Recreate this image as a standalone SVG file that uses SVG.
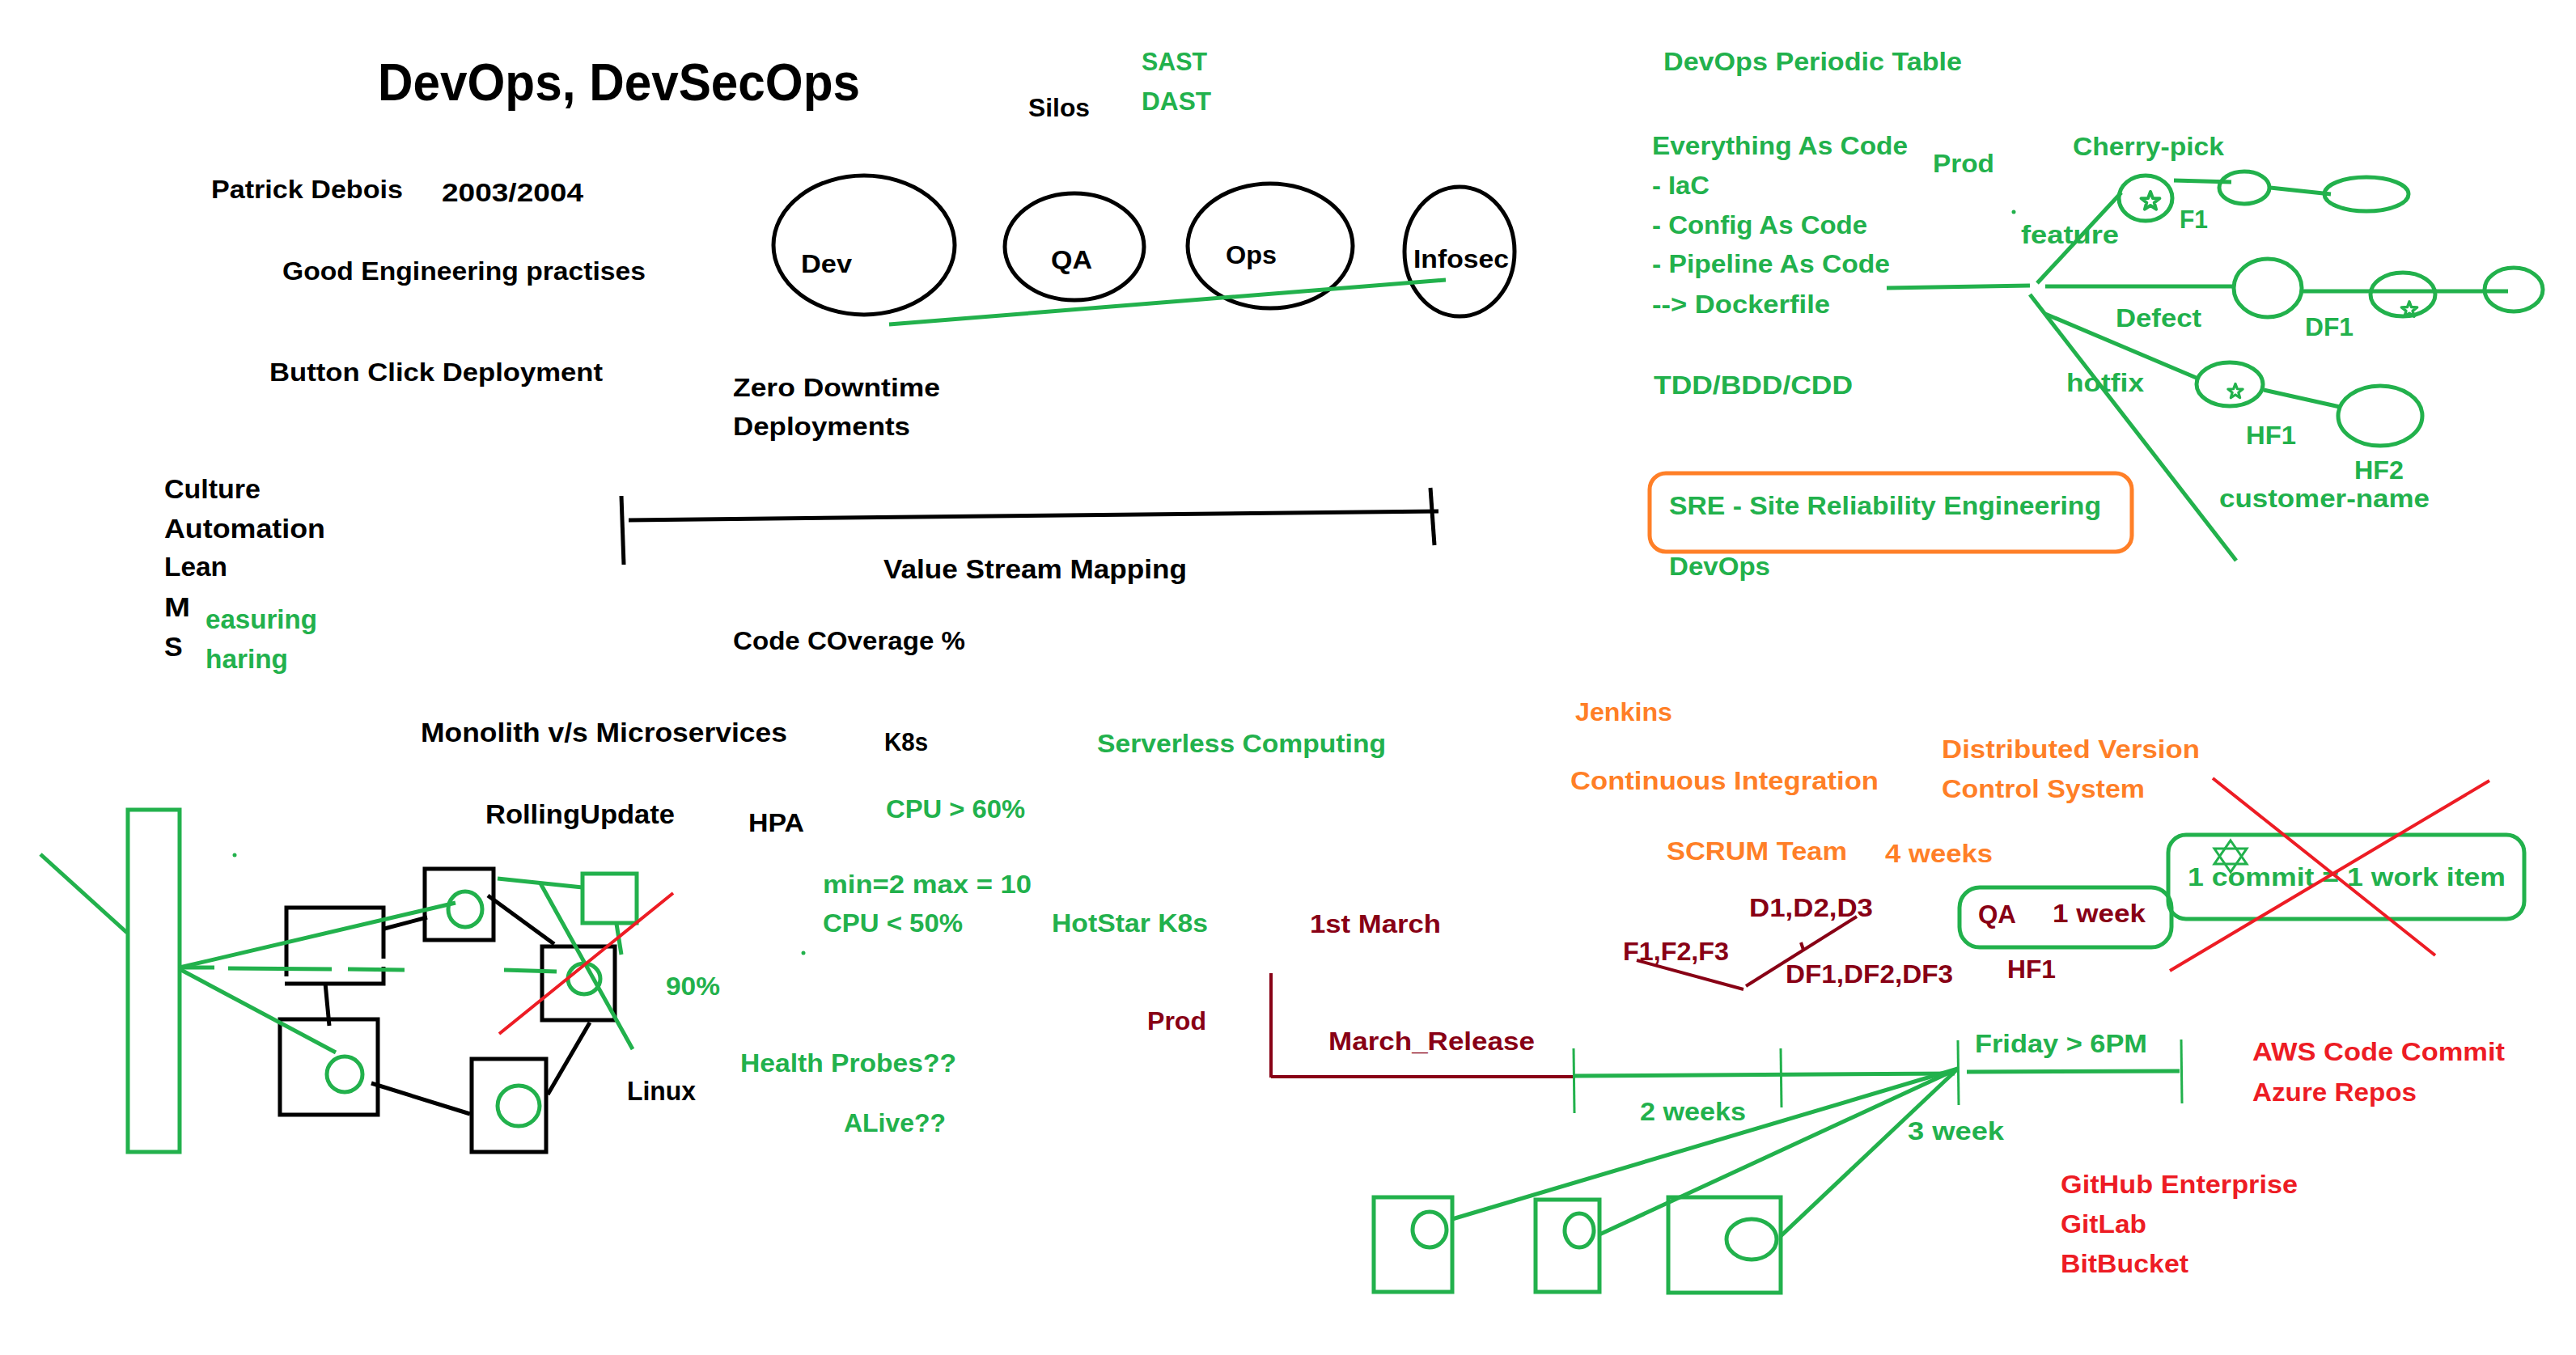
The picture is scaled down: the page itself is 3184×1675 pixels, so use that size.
<svg xmlns="http://www.w3.org/2000/svg" xmlns:xlink="http://www.w3.org/1999/xlink" width="3184" height="1675" viewBox="0 0 3184 1675">
<style>
text{font-family:"Liberation Sans",Arial,sans-serif;font-weight:bold;font-size:32px}
text.big{font-size:64px}
text.m{font-size:34px}
.k{fill:#000}.g{fill:#22B14C}.o{fill:#FF7F27}.r{fill:#ED1C24}.dr{fill:#880015}
.sk{fill:none;stroke:#000;stroke-width:5}
.sg{fill:none;stroke:#22B14C;stroke-width:5}
.sg3{fill:none;stroke:#22B14C;stroke-width:3}
.sr{fill:none;stroke:#ED1C24;stroke-width:4}
.sdr{fill:none;stroke:#880015;stroke-width:4}
.so{fill:none;stroke:#FF7F27;stroke-width:5}
</style>
<defs>
<polygon id="star" points="0,-12 2.94,-4.05 11.41,-3.71 4.76,1.55 7.05,9.71 0,5 -7.05,9.71 -4.76,1.55 -11.41,-3.71 -2.94,-4.05" fill="#fff" stroke="#22B14C" stroke-width="4" stroke-linejoin="round"/>
</defs>
<rect width="3184" height="1675" fill="#fff"/>

<g id="titles">
<text class="k big" x="467" y="124" textLength="596" lengthAdjust="spacingAndGlyphs">DevOps, DevSecOps</text>
<text class="k" x="1271" y="144" textLength="76" lengthAdjust="spacingAndGlyphs">Silos</text>
<text class="g" x="1411" y="87" textLength="81" lengthAdjust="spacingAndGlyphs">SAST</text>
<text class="g" x="1411" y="136" textLength="86" lengthAdjust="spacingAndGlyphs">DAST</text>
<text class="k" x="261" y="245" textLength="237" lengthAdjust="spacingAndGlyphs">Patrick Debois</text>
<text class="k" x="546" y="249" textLength="175" lengthAdjust="spacingAndGlyphs">2003/2004</text>
<text class="k" x="349" y="346" textLength="449" lengthAdjust="spacingAndGlyphs">Good Engineering practises</text>
<text class="k" x="333" y="471" textLength="412" lengthAdjust="spacingAndGlyphs">Button Click Deployment</text>
<text class="k" x="906" y="490" textLength="256" lengthAdjust="spacingAndGlyphs">Zero Downtime</text>
<text class="k" x="906" y="538" textLength="219" lengthAdjust="spacingAndGlyphs">Deployments</text>
<text class="k m" x="1092" y="715" textLength="375" lengthAdjust="spacingAndGlyphs">Value Stream Mapping</text>
<text class="k" x="906" y="803" textLength="287" lengthAdjust="spacingAndGlyphs">Code COverage %</text>
</g>

<g id="calms">
<text class="k m" x="203" y="616" textLength="119" lengthAdjust="spacingAndGlyphs">Culture</text>
<text class="k m" x="203" y="665" textLength="199" lengthAdjust="spacingAndGlyphs">Automation</text>
<text class="k m" x="203" y="712" textLength="78" lengthAdjust="spacingAndGlyphs">Lean</text>
<text class="k m" x="203" y="762" textLength="32" lengthAdjust="spacingAndGlyphs">M</text>
<text class="g m" x="254" y="777" textLength="138" lengthAdjust="spacingAndGlyphs">easuring</text>
<text class="k m" x="203" y="811">S</text>
<text class="g m" x="254" y="826" textLength="102" lengthAdjust="spacingAndGlyphs">haring</text>
</g>

<g id="silos">
<g id="node-dev"><ellipse class="sk" cx="1068" cy="303" rx="112" ry="86"/><text class="k" x="990" y="337" textLength="63" lengthAdjust="spacingAndGlyphs">Dev</text></g>
<g id="node-qa"><ellipse class="sk" cx="1328" cy="305" rx="86" ry="66"/><text class="k" x="1299" y="332" textLength="51" lengthAdjust="spacingAndGlyphs">QA</text></g>
<g id="node-ops"><ellipse class="sk" cx="1570" cy="304" rx="102" ry="77"/><text class="k" x="1515" y="326" textLength="63" lengthAdjust="spacingAndGlyphs">Ops</text></g>
<g id="node-infosec"><ellipse class="sk" cx="1804" cy="311" rx="68" ry="80"/><text class="k" x="1747" y="331" textLength="118" lengthAdjust="spacingAndGlyphs">Infosec</text></g>
</g>

<g id="value-stream">
<line class="sk" x1="768" y1="613" x2="771" y2="698" stroke-width="4"/>
<line class="sk" x1="777" y1="643" x2="1778" y2="632" stroke-width="6"/>
<line class="sk" x1="1768" y1="603" x2="1773" y2="674" stroke-width="4"/>
</g>

<g id="periodic">
<text class="g" x="2056" y="87" textLength="369" lengthAdjust="spacingAndGlyphs">DevOps Periodic Table</text>
<text class="g" x="2042" y="191" textLength="316" lengthAdjust="spacingAndGlyphs">Everything As Code</text>
<text class="g" x="2042" y="240" textLength="71" lengthAdjust="spacingAndGlyphs">- IaC</text>
<text class="g" x="2042" y="289" textLength="266" lengthAdjust="spacingAndGlyphs">- Config As Code</text>
<text class="g" x="2042" y="337" textLength="294" lengthAdjust="spacingAndGlyphs">- Pipeline As Code</text>
<text class="g" x="2042" y="387" textLength="220" lengthAdjust="spacingAndGlyphs">--&gt; Dockerfile</text>
<text class="g" x="2044" y="487" textLength="246" lengthAdjust="spacingAndGlyphs">TDD/BDD/CDD</text>
<g id="node-sre">
<rect class="so" x="2039" y="585" width="596" height="97" rx="20"/>
<text class="g" x="2063" y="636" textLength="534" lengthAdjust="spacingAndGlyphs">SRE - Site Reliability Engineering</text>
</g>
<text class="g" x="2063" y="711" textLength="125" lengthAdjust="spacingAndGlyphs">DevOps</text>
</g>

<g id="branches">
<text class="g" x="2389" y="213" textLength="76" lengthAdjust="spacingAndGlyphs">Prod</text>
<text class="g" x="2562" y="192" textLength="187" lengthAdjust="spacingAndGlyphs">Cherry-pick</text>
<text class="g" x="2498" y="301" textLength="121" lengthAdjust="spacingAndGlyphs">feature</text>
<text class="g" x="2694" y="282" textLength="35" lengthAdjust="spacingAndGlyphs">F1</text>
<text class="g" x="2615" y="404" textLength="106" lengthAdjust="spacingAndGlyphs">Defect</text>
<text class="g" x="2849" y="415" textLength="60" lengthAdjust="spacingAndGlyphs">DF1</text>
<text class="g" x="2554" y="484" textLength="96" lengthAdjust="spacingAndGlyphs">hotfix</text>
<text class="g" x="2776" y="549" textLength="62" lengthAdjust="spacingAndGlyphs">HF1</text>
<text class="g" x="2910" y="592" textLength="61" lengthAdjust="spacingAndGlyphs">HF2</text>
<text class="g" x="2743" y="627" textLength="260" lengthAdjust="spacingAndGlyphs">customer-name</text>
<circle cx="2489" cy="262" r="2.5" fill="#22B14C"/>
<g id="node-f1"><ellipse class="sg" cx="2652" cy="245" rx="33" ry="28"/><use xlink:href="#star" x="2658" y="249"/></g>
<g id="node-f2"><ellipse class="sg" cx="2774" cy="232" rx="31" ry="20"/></g>
<g id="node-f3"><ellipse class="sg" cx="2925" cy="240" rx="52" ry="21"/></g>
<g id="node-d1"><ellipse class="sg" cx="2803" cy="356" rx="42" ry="36"/></g>
<g id="node-df1"><ellipse class="sg" cx="2970" cy="364" rx="40" ry="27"/><use xlink:href="#star" x="2978" y="383" transform="translate(2978 383) scale(0.85) translate(-2978 -383)"/></g>
<g id="node-d3"><ellipse class="sg" cx="3107" cy="358" rx="36" ry="27"/></g>
<g id="node-hf1"><ellipse class="sg" cx="2756" cy="475" rx="41" ry="27"/><use xlink:href="#star" x="2763" y="484" transform="translate(2763 484) scale(0.8) translate(-2763 -484)"/></g>
<g id="node-hf2"><ellipse class="sg" cx="2942" cy="514" rx="52" ry="37"/></g>
</g>

<g id="ci">
<text class="o" x="1947" y="891" textLength="120" lengthAdjust="spacingAndGlyphs">Jenkins</text>
<text class="o" x="1941" y="976" textLength="381" lengthAdjust="spacingAndGlyphs">Continuous Integration</text>
<text class="o" x="2400" y="937" textLength="319" lengthAdjust="spacingAndGlyphs">Distributed Version</text>
<text class="o" x="2400" y="986" textLength="251" lengthAdjust="spacingAndGlyphs">Control System</text>
<text class="o" x="2060" y="1063" textLength="223" lengthAdjust="spacingAndGlyphs">SCRUM Team</text>
<text class="o" x="2330" y="1066" textLength="133" lengthAdjust="spacingAndGlyphs">4 weeks</text>
<text class="dr" x="2162" y="1133" textLength="153" lengthAdjust="spacingAndGlyphs">D1,D2,D3</text>
<text class="dr" x="2006" y="1187" textLength="131" lengthAdjust="spacingAndGlyphs">F1,F2,F3</text>
<text class="dr" x="2207" y="1215" textLength="207" lengthAdjust="spacingAndGlyphs">DF1,DF2,DF3</text>
<text class="dr" x="2481" y="1209" textLength="60" lengthAdjust="spacingAndGlyphs">HF1</text>
<g id="node-qa-week">
<rect class="sg" x="2422" y="1097" width="262" height="74" rx="25"/>
<text class="dr" x="2445" y="1141" textLength="47" lengthAdjust="spacingAndGlyphs">QA</text>
<text class="dr" x="2537" y="1140" textLength="115" lengthAdjust="spacingAndGlyphs">1 week</text>
</g>
<g id="node-commit">
<rect class="sg" x="2680" y="1032" width="440" height="104" rx="22" stroke-width="6"/>
<text class="g" x="2704" y="1095" textLength="393" lengthAdjust="spacingAndGlyphs">1 commit = 1 work item</text>
<polygon class="sg3" points="2757,1039 2777,1068 2737,1068"/>
<polygon class="sg3" points="2757,1078 2737,1049 2777,1049"/>
</g>
</g>

<g id="k8s">
<text class="k m" x="520" y="917" textLength="453" lengthAdjust="spacingAndGlyphs">Monolith v/s Microservices</text>
<text class="k" x="1093" y="928" textLength="54" lengthAdjust="spacingAndGlyphs">K8s</text>
<text class="g" x="1356" y="930" textLength="357" lengthAdjust="spacingAndGlyphs">Serverless Computing</text>
<text class="k m" x="600" y="1018" textLength="234" lengthAdjust="spacingAndGlyphs">RollingUpdate</text>
<text class="k" x="925" y="1028" textLength="69" lengthAdjust="spacingAndGlyphs">HPA</text>
<text class="g" x="1095" y="1011" textLength="172" lengthAdjust="spacingAndGlyphs">CPU &gt; 60%</text>
<text class="g" x="1017" y="1104" textLength="258" lengthAdjust="spacingAndGlyphs">min=2 max = 10</text>
<text class="g" x="1017" y="1152" textLength="173" lengthAdjust="spacingAndGlyphs">CPU &lt; 50%</text>
<text class="g" x="1300" y="1152" textLength="193" lengthAdjust="spacingAndGlyphs">HotStar K8s</text>
<text class="g" x="823" y="1230" textLength="67" lengthAdjust="spacingAndGlyphs">90%</text>
<text class="k m" x="775" y="1360" textLength="85" lengthAdjust="spacingAndGlyphs">Linux</text>
<text class="g" x="915" y="1325" textLength="267" lengthAdjust="spacingAndGlyphs">Health Probes??</text>
<text class="g" x="1043" y="1399" textLength="126" lengthAdjust="spacingAndGlyphs">ALive??</text>
<circle cx="290" cy="1057" r="2.5" fill="#22B14C"/>
<circle cx="993" cy="1178" r="2.5" fill="#22B14C"/>
<g id="node-lb"><rect class="sg" x="158" y="1001" width="64" height="423"/></g>
<g id="node-box1"><path class="sk" d="M354,1207 V1122 H474 V1185 M474,1195 V1216 H352"/></g>
<g id="node-box2"><rect class="sk" x="525" y="1074" width="85" height="88"/><ellipse class="sg" cx="575" cy="1124" rx="21" ry="22" stroke-width="4"/></g>
<g id="node-gbox"><rect class="sg" x="720" y="1080" width="67" height="61"/></g>
<g id="node-box3"><rect class="sk" x="670" y="1170" width="90" height="91"/><ellipse class="sg" cx="722" cy="1210" rx="20" ry="19" stroke-width="4"/></g>
<g id="node-box4"><rect class="sk" x="346" y="1260" width="121" height="118"/><ellipse class="sg" cx="426" cy="1328" rx="22" ry="22" stroke-width="4"/></g>
<g id="node-box5"><rect class="sk" x="583" y="1309" width="92" height="115"/><ellipse class="sg" cx="641" cy="1367" rx="26" ry="25" stroke-width="4"/></g>
</g>

<g id="hotstar-release">
<text class="dr" x="1619" y="1153" textLength="162" lengthAdjust="spacingAndGlyphs">1st March</text>
<text class="dr" x="1418" y="1273" textLength="73" lengthAdjust="spacingAndGlyphs">Prod</text>
<text class="dr" x="1642" y="1298" textLength="255" lengthAdjust="spacingAndGlyphs">March_Release</text>
<text class="g" x="2441" y="1301" textLength="213" lengthAdjust="spacingAndGlyphs">Friday &gt; 6PM</text>
<text class="g" x="2027" y="1385" textLength="131" lengthAdjust="spacingAndGlyphs">2 weeks</text>
<text class="g" x="2358" y="1409" textLength="119" lengthAdjust="spacingAndGlyphs">3 week</text>
<text class="r" x="2784" y="1311" textLength="312" lengthAdjust="spacingAndGlyphs">AWS Code Commit</text>
<text class="r" x="2784" y="1361" textLength="203" lengthAdjust="spacingAndGlyphs">Azure Repos</text>
<text class="r" x="2547" y="1475" textLength="293" lengthAdjust="spacingAndGlyphs">GitHub Enterprise</text>
<text class="r" x="2547" y="1524" textLength="106" lengthAdjust="spacingAndGlyphs">GitLab</text>
<text class="r" x="2547" y="1573" textLength="158" lengthAdjust="spacingAndGlyphs">BitBucket</text>
<g id="node-srvA"><rect class="sg" x="1698" y="1480" width="97" height="117" stroke-width="6"/><ellipse class="sg" cx="1767" cy="1520" rx="21" ry="22" stroke-width="4"/></g>
<g id="node-srvB"><rect class="sg" x="1898" y="1483" width="79" height="114" stroke-width="6"/><ellipse class="sg" cx="1952" cy="1521" rx="18" ry="21" stroke-width="4"/></g>
<g id="node-srvC"><rect class="sg" x="2062" y="1480" width="139" height="118" stroke-width="6"/><ellipse class="sg" cx="2165" cy="1532" rx="31" ry="25" stroke-width="4"/></g>
</g>

<g id="connectors">
<line class="sg" x1="1099" y1="401" x2="1787" y2="346" stroke-width="6"/>
<line class="sg" x1="2332" y1="356" x2="2509" y2="353" stroke-width="5"/>
<line class="sg" x1="2528" y1="354" x2="2762" y2="354" stroke-width="5"/>
<line class="sg" x1="2518" y1="350" x2="2622" y2="238" stroke-width="4"/>
<line class="sg" x1="2687" y1="223" x2="2758" y2="225" stroke-width="5"/>
<line class="sg" x1="2806" y1="232" x2="2881" y2="240" stroke-width="5"/>
<line class="sg" x1="2846" y1="360" x2="3100" y2="360" stroke-width="5"/>
<line class="sg" x1="2528" y1="388" x2="2717" y2="468" stroke-width="4"/>
<line class="sg" x1="2798" y1="482" x2="2892" y2="503" stroke-width="5"/>
<line class="sg" x1="2509" y1="364" x2="2764" y2="693" stroke-width="4"/>
<line class="sg" x1="50" y1="1056" x2="157" y2="1153" stroke-width="4"/>
<line class="sg" x1="222" y1="1196" x2="563" y2="1116" stroke-width="5"/>
<line class="sg" x1="222" y1="1198" x2="415" y2="1301" stroke-width="4"/>
<line class="sg" x1="224" y1="1196" x2="265" y2="1196" stroke-width="4"/>
<line class="sg" x1="282" y1="1197" x2="410" y2="1198" stroke-width="4"/>
<line class="sg" x1="430" y1="1198" x2="500" y2="1199" stroke-width="4"/>
<line class="sg" x1="623" y1="1199" x2="688" y2="1201" stroke-width="4"/>
<line class="sg" x1="615" y1="1086" x2="720" y2="1097" stroke-width="4"/>
<line class="sg" x1="668" y1="1092" x2="782" y2="1297" stroke-width="4"/>
<line class="sg" x1="762" y1="1142" x2="768" y2="1180" stroke-width="4"/>
<line class="sr" x1="617" y1="1278" x2="832" y2="1104"/>
<line class="sk" x1="475" y1="1148" x2="528" y2="1134"/>
<line class="sk" x1="603" y1="1107" x2="685" y2="1167" stroke-width="4"/>
<line class="sk" x1="402" y1="1215" x2="407" y2="1268" stroke-width="4"/>
<line class="sk" x1="459" y1="1339" x2="581" y2="1377"/>
<line class="sk" x1="677" y1="1353" x2="729" y2="1264" stroke-width="4"/>
<line class="sdr" x1="2023" y1="1187" x2="2155" y2="1223" stroke-width="5"/>
<line class="sdr" x1="2158" y1="1219" x2="2295" y2="1133" stroke-width="3"/>
<line class="sdr" x1="2226" y1="1165" x2="2229" y2="1174" stroke-width="2"/>
<line class="sr" x1="2735" y1="962" x2="3010" y2="1181"/>
<line class="sr" x1="3077" y1="965" x2="2682" y2="1200"/>
<line class="sdr" x1="1571" y1="1203" x2="1571" y2="1332" stroke-width="3"/>
<line class="sdr" x1="1571" y1="1331" x2="1945" y2="1331" stroke-width="6"/>
<line class="sg3" x1="1945" y1="1296" x2="1946" y2="1376"/>
<line class="sg" x1="1945" y1="1330" x2="2416" y2="1327" stroke-width="6"/>
<line class="sg3" x1="2201" y1="1296" x2="2202" y2="1369"/>
<line class="sg3" x1="2420" y1="1286" x2="2421" y2="1366"/>
<line class="sg" x1="2431" y1="1325" x2="2694" y2="1324" stroke-width="6"/>
<line class="sg3" x1="2696" y1="1285" x2="2697" y2="1364"/>
<line class="sg" x1="2420" y1="1321" x2="1795" y2="1507" stroke-width="6"/>
<line class="sg" x1="2420" y1="1321" x2="1977" y2="1526" stroke-width="4"/>
<line class="sg" x1="2420" y1="1321" x2="2201" y2="1528" stroke-width="3"/>
</g>
</svg>
